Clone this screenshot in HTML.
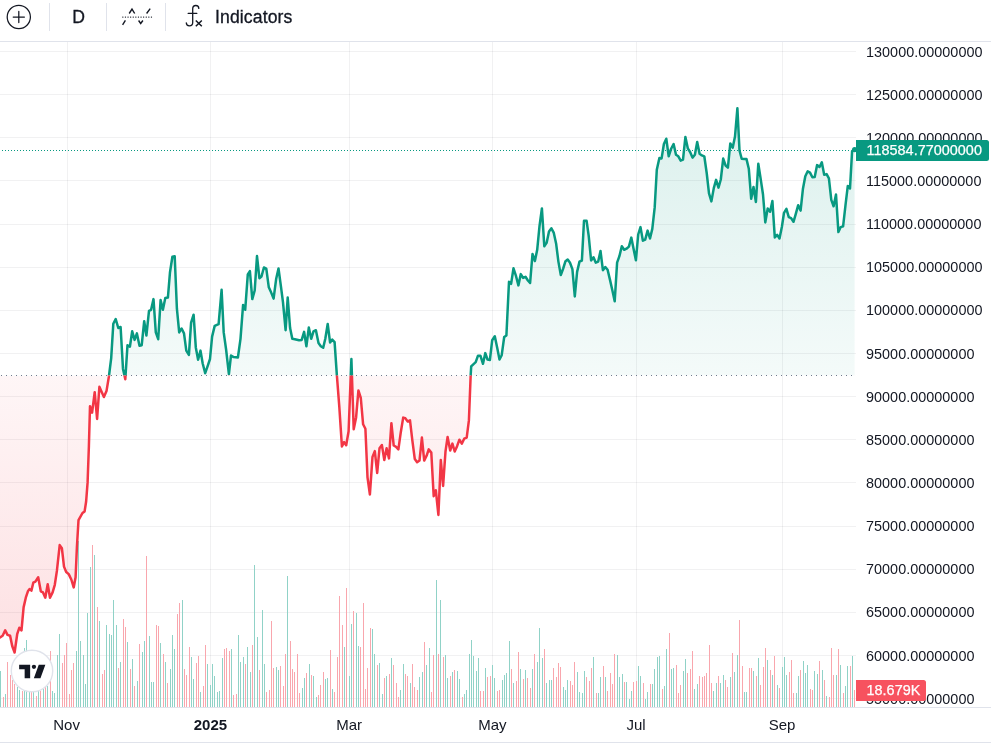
<!DOCTYPE html>
<html><head><meta charset="utf-8"><title>Chart</title>
<style>
html,body{margin:0;padding:0;background:#fff;}
body{width:991px;height:745px;overflow:hidden;position:relative;font-family:"Liberation Sans",sans-serif;color:#131722;}
#tb{position:absolute;left:0;top:0;width:991px;height:41px;border-bottom:1px solid #e0e3eb;box-sizing:content-box;}
.sep{position:absolute;top:3px;width:1px;height:28px;background:#e0e3eb;}
#tb .t{position:absolute;font-size:17.6px;line-height:20px;top:7px;-webkit-text-stroke:0.3px #131722;}
#chart{position:absolute;left:0;top:0;}
.pl{position:absolute;left:866px;font-size:14.4px;line-height:20px;height:20px;white-space:nowrap;letter-spacing:0.03px;}
.tl{position:absolute;top:714.5px;width:60px;text-align:center;font-size:15px;line-height:20px;}
.tl.b{font-weight:bold;}
#ta{position:absolute;left:0;top:707px;width:991px;height:36px;border-top:1px solid #e0e3eb;border-bottom:1px solid #e0e3eb;box-sizing:border-box;}
.tag{position:absolute;left:856px;color:#fff;-webkit-text-stroke:0.25px #fff;font-size:14.4px;letter-spacing:0.03px;line-height:20px;white-space:nowrap;border-radius:0 2.5px 2.5px 0;padding-left:10.5px;box-sizing:border-box;}
#logo{position:absolute;left:10.5px;top:649.5px;width:42px;height:42px;border-radius:50%;background:#fff;border:1px solid #e0e3eb;box-sizing:border-box;}
</style></head><body>
<svg id="chart" width="991" height="745" viewBox="0 0 991 745">
<defs>
<linearGradient id="gt" gradientUnits="userSpaceOnUse" x1="0" y1="41.5" x2="0" y2="375.4"><stop offset="0" stop-color="#089981" stop-opacity="0.17"/><stop offset="1" stop-color="#089981" stop-opacity="0.045"/></linearGradient>
<linearGradient id="gb" gradientUnits="userSpaceOnUse" x1="0" y1="375.4" x2="0" y2="707"><stop offset="0" stop-color="#f23645" stop-opacity="0.045"/><stop offset="1" stop-color="#f23645" stop-opacity="0.175"/></linearGradient>
<clipPath id="ct"><rect x="0" y="41.5" width="856" height="333.9"/></clipPath>
<clipPath id="cb"><rect x="0" y="375.4" width="856" height="331.6"/></clipPath>
</defs>
<g stroke="#2a2e39" stroke-opacity="0.065" stroke-width="1" shape-rendering="crispEdges"><line x1="0" y1="51.5" x2="856" y2="51.5"/><line x1="0" y1="94.5" x2="856" y2="94.5"/><line x1="0" y1="137.5" x2="856" y2="137.5"/><line x1="0" y1="180.5" x2="856" y2="180.5"/><line x1="0" y1="224.5" x2="856" y2="224.5"/><line x1="0" y1="267.5" x2="856" y2="267.5"/><line x1="0" y1="310.5" x2="856" y2="310.5"/><line x1="0" y1="353.5" x2="856" y2="353.5"/><line x1="0" y1="396.5" x2="856" y2="396.5"/><line x1="0" y1="439.5" x2="856" y2="439.5"/><line x1="0" y1="482.5" x2="856" y2="482.5"/><line x1="0" y1="526.5" x2="856" y2="526.5"/><line x1="0" y1="569.5" x2="856" y2="569.5"/><line x1="0" y1="612.5" x2="856" y2="612.5"/><line x1="0" y1="655.5" x2="856" y2="655.5"/><line x1="0" y1="698.5" x2="856" y2="698.5"/><line x1="67.5" y1="41" x2="67.5" y2="707"/><line x1="210.5" y1="41" x2="210.5" y2="707"/><line x1="349.5" y1="41" x2="349.5" y2="707"/><line x1="492.5" y1="41" x2="492.5" y2="707"/><line x1="636.5" y1="41" x2="636.5" y2="707"/><line x1="782.5" y1="41" x2="782.5" y2="707"/></g>
<g shape-rendering="crispEdges"><rect x="0" y="671" width="1" height="36" fill="#90d2c7"/><rect x="3" y="697" width="1" height="10" fill="#f9a6ad"/><rect x="5" y="694" width="1" height="13" fill="#90d2c7"/><rect x="7" y="662" width="1" height="45" fill="#f9a6ad"/><rect x="10" y="675" width="1" height="32" fill="#f9a6ad"/><rect x="12" y="680" width="1" height="27" fill="#f9a6ad"/><rect x="14" y="684" width="1" height="23" fill="#f9a6ad"/><rect x="17" y="687" width="1" height="20" fill="#90d2c7"/><rect x="19" y="690" width="1" height="17" fill="#90d2c7"/><rect x="22" y="691" width="1" height="16" fill="#f9a6ad"/><rect x="24" y="648" width="1" height="59" fill="#90d2c7"/><rect x="26" y="640" width="1" height="67" fill="#90d2c7"/><rect x="29" y="692" width="1" height="15" fill="#90d2c7"/><rect x="31" y="692" width="1" height="15" fill="#f9a6ad"/><rect x="33" y="692" width="1" height="15" fill="#90d2c7"/><rect x="36" y="696" width="1" height="11" fill="#f9a6ad"/><rect x="38" y="691" width="1" height="16" fill="#90d2c7"/><rect x="40" y="691" width="1" height="16" fill="#f9a6ad"/><rect x="43" y="689" width="1" height="18" fill="#90d2c7"/><rect x="45" y="687" width="1" height="20" fill="#f9a6ad"/><rect x="47" y="686" width="1" height="21" fill="#90d2c7"/><rect x="50" y="651" width="1" height="56" fill="#f9a6ad"/><rect x="52" y="691" width="1" height="16" fill="#90d2c7"/><rect x="54" y="693" width="1" height="14" fill="#90d2c7"/><rect x="57" y="655" width="1" height="52" fill="#90d2c7"/><rect x="59" y="634" width="1" height="73" fill="#90d2c7"/><rect x="62" y="663" width="1" height="44" fill="#f9a6ad"/><rect x="64" y="655" width="1" height="52" fill="#f9a6ad"/><rect x="66" y="643" width="1" height="64" fill="#f9a6ad"/><rect x="69" y="694" width="1" height="13" fill="#f9a6ad"/><rect x="71" y="670" width="1" height="37" fill="#f9a6ad"/><rect x="73" y="663" width="1" height="44" fill="#f9a6ad"/><rect x="76" y="651" width="1" height="56" fill="#90d2c7"/><rect x="78" y="541" width="1" height="166" fill="#90d2c7"/><rect x="80" y="641" width="1" height="66" fill="#90d2c7"/><rect x="83" y="655" width="1" height="52" fill="#90d2c7"/><rect x="85" y="684" width="1" height="23" fill="#90d2c7"/><rect x="87" y="613" width="1" height="94" fill="#90d2c7"/><rect x="90" y="567" width="1" height="140" fill="#90d2c7"/><rect x="92" y="545" width="1" height="162" fill="#f9a6ad"/><rect x="94" y="555" width="1" height="152" fill="#90d2c7"/><rect x="97" y="607" width="1" height="100" fill="#f9a6ad"/><rect x="99" y="621" width="1" height="86" fill="#90d2c7"/><rect x="102" y="674" width="1" height="33" fill="#f9a6ad"/><rect x="104" y="670" width="1" height="37" fill="#f9a6ad"/><rect x="106" y="625" width="1" height="82" fill="#90d2c7"/><rect x="109" y="634" width="1" height="73" fill="#90d2c7"/><rect x="111" y="635" width="1" height="72" fill="#90d2c7"/><rect x="113" y="600" width="1" height="107" fill="#90d2c7"/><rect x="116" y="625" width="1" height="82" fill="#90d2c7"/><rect x="118" y="668" width="1" height="39" fill="#f9a6ad"/><rect x="120" y="662" width="1" height="45" fill="#90d2c7"/><rect x="123" y="619" width="1" height="88" fill="#f9a6ad"/><rect x="125" y="627" width="1" height="80" fill="#f9a6ad"/><rect x="127" y="642" width="1" height="65" fill="#90d2c7"/><rect x="130" y="669" width="1" height="38" fill="#f9a6ad"/><rect x="132" y="659" width="1" height="48" fill="#90d2c7"/><rect x="134" y="686" width="1" height="21" fill="#f9a6ad"/><rect x="137" y="681" width="1" height="26" fill="#90d2c7"/><rect x="139" y="644" width="1" height="63" fill="#f9a6ad"/><rect x="142" y="652" width="1" height="55" fill="#90d2c7"/><rect x="144" y="641" width="1" height="66" fill="#90d2c7"/><rect x="146" y="556" width="1" height="151" fill="#f9a6ad"/><rect x="149" y="636" width="1" height="71" fill="#90d2c7"/><rect x="151" y="682" width="1" height="25" fill="#90d2c7"/><rect x="153" y="682" width="1" height="25" fill="#90d2c7"/><rect x="156" y="625" width="1" height="82" fill="#f9a6ad"/><rect x="158" y="626" width="1" height="81" fill="#f9a6ad"/><rect x="160" y="643" width="1" height="64" fill="#90d2c7"/><rect x="163" y="654" width="1" height="53" fill="#f9a6ad"/><rect x="165" y="662" width="1" height="45" fill="#90d2c7"/><rect x="167" y="683" width="1" height="24" fill="#f9a6ad"/><rect x="170" y="669" width="1" height="38" fill="#90d2c7"/><rect x="172" y="635" width="1" height="72" fill="#90d2c7"/><rect x="174" y="649" width="1" height="58" fill="#90d2c7"/><rect x="177" y="614" width="1" height="93" fill="#f9a6ad"/><rect x="179" y="603" width="1" height="104" fill="#f9a6ad"/><rect x="182" y="600" width="1" height="107" fill="#90d2c7"/><rect x="184" y="669" width="1" height="38" fill="#f9a6ad"/><rect x="186" y="675" width="1" height="32" fill="#f9a6ad"/><rect x="189" y="647" width="1" height="60" fill="#f9a6ad"/><rect x="191" y="657" width="1" height="50" fill="#90d2c7"/><rect x="193" y="679" width="1" height="28" fill="#90d2c7"/><rect x="196" y="663" width="1" height="44" fill="#f9a6ad"/><rect x="198" y="656" width="1" height="51" fill="#f9a6ad"/><rect x="200" y="692" width="1" height="15" fill="#90d2c7"/><rect x="203" y="686" width="1" height="21" fill="#f9a6ad"/><rect x="205" y="645" width="1" height="62" fill="#f9a6ad"/><rect x="207" y="664" width="1" height="43" fill="#90d2c7"/><rect x="210" y="685" width="1" height="22" fill="#90d2c7"/><rect x="212" y="664" width="1" height="43" fill="#90d2c7"/><rect x="214" y="676" width="1" height="31" fill="#90d2c7"/><rect x="217" y="692" width="1" height="15" fill="#90d2c7"/><rect x="219" y="691" width="1" height="16" fill="#90d2c7"/><rect x="222" y="658" width="1" height="49" fill="#90d2c7"/><rect x="224" y="649" width="1" height="58" fill="#f9a6ad"/><rect x="226" y="648" width="1" height="59" fill="#f9a6ad"/><rect x="229" y="651" width="1" height="56" fill="#f9a6ad"/><rect x="231" y="649" width="1" height="58" fill="#90d2c7"/><rect x="233" y="695" width="1" height="12" fill="#f9a6ad"/><rect x="236" y="694" width="1" height="13" fill="#f9a6ad"/><rect x="238" y="635" width="1" height="72" fill="#90d2c7"/><rect x="240" y="662" width="1" height="45" fill="#90d2c7"/><rect x="243" y="657" width="1" height="50" fill="#90d2c7"/><rect x="245" y="664" width="1" height="43" fill="#f9a6ad"/><rect x="247" y="647" width="1" height="60" fill="#90d2c7"/><rect x="250" y="672" width="1" height="35" fill="#90d2c7"/><rect x="252" y="645" width="1" height="62" fill="#f9a6ad"/><rect x="254" y="565" width="1" height="142" fill="#90d2c7"/><rect x="257" y="637" width="1" height="70" fill="#90d2c7"/><rect x="259" y="670" width="1" height="37" fill="#f9a6ad"/><rect x="262" y="610" width="1" height="97" fill="#90d2c7"/><rect x="264" y="664" width="1" height="43" fill="#90d2c7"/><rect x="266" y="692" width="1" height="15" fill="#f9a6ad"/><rect x="269" y="690" width="1" height="17" fill="#f9a6ad"/><rect x="271" y="621" width="1" height="86" fill="#f9a6ad"/><rect x="273" y="668" width="1" height="39" fill="#f9a6ad"/><rect x="276" y="667" width="1" height="40" fill="#90d2c7"/><rect x="278" y="670" width="1" height="37" fill="#90d2c7"/><rect x="280" y="666" width="1" height="41" fill="#f9a6ad"/><rect x="283" y="686" width="1" height="21" fill="#f9a6ad"/><rect x="285" y="654" width="1" height="53" fill="#f9a6ad"/><rect x="287" y="576" width="1" height="131" fill="#90d2c7"/><rect x="290" y="641" width="1" height="66" fill="#f9a6ad"/><rect x="292" y="669" width="1" height="38" fill="#f9a6ad"/><rect x="294" y="672" width="1" height="35" fill="#f9a6ad"/><rect x="297" y="654" width="1" height="53" fill="#f9a6ad"/><rect x="299" y="693" width="1" height="14" fill="#f9a6ad"/><rect x="302" y="688" width="1" height="19" fill="#90d2c7"/><rect x="304" y="678" width="1" height="29" fill="#90d2c7"/><rect x="306" y="673" width="1" height="34" fill="#f9a6ad"/><rect x="309" y="664" width="1" height="43" fill="#90d2c7"/><rect x="311" y="675" width="1" height="32" fill="#f9a6ad"/><rect x="313" y="676" width="1" height="31" fill="#90d2c7"/><rect x="316" y="697" width="1" height="10" fill="#90d2c7"/><rect x="318" y="695" width="1" height="12" fill="#f9a6ad"/><rect x="320" y="685" width="1" height="22" fill="#f9a6ad"/><rect x="323" y="672" width="1" height="35" fill="#f9a6ad"/><rect x="325" y="679" width="1" height="28" fill="#90d2c7"/><rect x="327" y="678" width="1" height="29" fill="#90d2c7"/><rect x="330" y="650" width="1" height="57" fill="#f9a6ad"/><rect x="332" y="689" width="1" height="18" fill="#90d2c7"/><rect x="334" y="692" width="1" height="15" fill="#f9a6ad"/><rect x="337" y="657" width="1" height="50" fill="#f9a6ad"/><rect x="339" y="596" width="1" height="111" fill="#f9a6ad"/><rect x="342" y="625" width="1" height="82" fill="#f9a6ad"/><rect x="344" y="647" width="1" height="60" fill="#90d2c7"/><rect x="346" y="588" width="1" height="119" fill="#f9a6ad"/><rect x="349" y="676" width="1" height="31" fill="#90d2c7"/><rect x="351" y="624" width="1" height="83" fill="#90d2c7"/><rect x="353" y="611" width="1" height="96" fill="#f9a6ad"/><rect x="356" y="613" width="1" height="94" fill="#90d2c7"/><rect x="358" y="646" width="1" height="61" fill="#90d2c7"/><rect x="360" y="647" width="1" height="60" fill="#f9a6ad"/><rect x="363" y="603" width="1" height="104" fill="#f9a6ad"/><rect x="365" y="689" width="1" height="18" fill="#f9a6ad"/><rect x="367" y="668" width="1" height="39" fill="#f9a6ad"/><rect x="370" y="628" width="1" height="79" fill="#f9a6ad"/><rect x="372" y="629" width="1" height="78" fill="#90d2c7"/><rect x="374" y="654" width="1" height="53" fill="#90d2c7"/><rect x="377" y="665" width="1" height="42" fill="#f9a6ad"/><rect x="379" y="663" width="1" height="44" fill="#90d2c7"/><rect x="382" y="694" width="1" height="13" fill="#90d2c7"/><rect x="384" y="678" width="1" height="29" fill="#f9a6ad"/><rect x="386" y="676" width="1" height="31" fill="#90d2c7"/><rect x="389" y="674" width="1" height="33" fill="#f9a6ad"/><rect x="391" y="658" width="1" height="49" fill="#90d2c7"/><rect x="393" y="665" width="1" height="42" fill="#f9a6ad"/><rect x="396" y="683" width="1" height="24" fill="#f9a6ad"/><rect x="398" y="697" width="1" height="10" fill="#f9a6ad"/><rect x="400" y="690" width="1" height="17" fill="#90d2c7"/><rect x="403" y="664" width="1" height="43" fill="#90d2c7"/><rect x="405" y="674" width="1" height="33" fill="#f9a6ad"/><rect x="407" y="676" width="1" height="31" fill="#f9a6ad"/><rect x="410" y="683" width="1" height="24" fill="#90d2c7"/><rect x="412" y="664" width="1" height="43" fill="#f9a6ad"/><rect x="414" y="687" width="1" height="20" fill="#f9a6ad"/><rect x="417" y="690" width="1" height="17" fill="#f9a6ad"/><rect x="419" y="677" width="1" height="30" fill="#90d2c7"/><rect x="422" y="672" width="1" height="35" fill="#90d2c7"/><rect x="424" y="642" width="1" height="65" fill="#f9a6ad"/><rect x="426" y="665" width="1" height="42" fill="#90d2c7"/><rect x="429" y="648" width="1" height="59" fill="#90d2c7"/><rect x="431" y="692" width="1" height="15" fill="#f9a6ad"/><rect x="433" y="655" width="1" height="52" fill="#f9a6ad"/><rect x="436" y="580" width="1" height="127" fill="#90d2c7"/><rect x="438" y="654" width="1" height="53" fill="#f9a6ad"/><rect x="440" y="600" width="1" height="107" fill="#90d2c7"/><rect x="443" y="657" width="1" height="50" fill="#f9a6ad"/><rect x="445" y="655" width="1" height="52" fill="#90d2c7"/><rect x="447" y="678" width="1" height="29" fill="#90d2c7"/><rect x="450" y="676" width="1" height="31" fill="#f9a6ad"/><rect x="452" y="672" width="1" height="35" fill="#90d2c7"/><rect x="454" y="670" width="1" height="37" fill="#f9a6ad"/><rect x="457" y="671" width="1" height="36" fill="#90d2c7"/><rect x="459" y="679" width="1" height="28" fill="#90d2c7"/><rect x="462" y="697" width="1" height="10" fill="#f9a6ad"/><rect x="464" y="694" width="1" height="13" fill="#90d2c7"/><rect x="466" y="690" width="1" height="17" fill="#90d2c7"/><rect x="469" y="654" width="1" height="53" fill="#90d2c7"/><rect x="471" y="640" width="1" height="67" fill="#90d2c7"/><rect x="473" y="656" width="1" height="51" fill="#90d2c7"/><rect x="476" y="671" width="1" height="36" fill="#90d2c7"/><rect x="478" y="658" width="1" height="49" fill="#90d2c7"/><rect x="480" y="691" width="1" height="16" fill="#f9a6ad"/><rect x="483" y="691" width="1" height="16" fill="#f9a6ad"/><rect x="485" y="668" width="1" height="39" fill="#90d2c7"/><rect x="487" y="677" width="1" height="30" fill="#f9a6ad"/><rect x="490" y="676" width="1" height="31" fill="#f9a6ad"/><rect x="492" y="665" width="1" height="42" fill="#90d2c7"/><rect x="494" y="678" width="1" height="29" fill="#90d2c7"/><rect x="497" y="691" width="1" height="16" fill="#f9a6ad"/><rect x="499" y="690" width="1" height="17" fill="#f9a6ad"/><rect x="502" y="680" width="1" height="27" fill="#90d2c7"/><rect x="504" y="675" width="1" height="32" fill="#90d2c7"/><rect x="506" y="673" width="1" height="34" fill="#90d2c7"/><rect x="509" y="641" width="1" height="66" fill="#90d2c7"/><rect x="511" y="669" width="1" height="38" fill="#f9a6ad"/><rect x="513" y="683" width="1" height="24" fill="#90d2c7"/><rect x="516" y="681" width="1" height="26" fill="#f9a6ad"/><rect x="518" y="652" width="1" height="55" fill="#f9a6ad"/><rect x="520" y="669" width="1" height="38" fill="#90d2c7"/><rect x="523" y="679" width="1" height="28" fill="#f9a6ad"/><rect x="525" y="670" width="1" height="37" fill="#90d2c7"/><rect x="527" y="678" width="1" height="29" fill="#f9a6ad"/><rect x="530" y="688" width="1" height="19" fill="#f9a6ad"/><rect x="532" y="669" width="1" height="38" fill="#90d2c7"/><rect x="534" y="654" width="1" height="53" fill="#f9a6ad"/><rect x="537" y="662" width="1" height="45" fill="#90d2c7"/><rect x="539" y="628" width="1" height="79" fill="#90d2c7"/><rect x="542" y="658" width="1" height="49" fill="#90d2c7"/><rect x="544" y="649" width="1" height="58" fill="#f9a6ad"/><rect x="546" y="683" width="1" height="24" fill="#90d2c7"/><rect x="549" y="680" width="1" height="27" fill="#90d2c7"/><rect x="551" y="680" width="1" height="27" fill="#90d2c7"/><rect x="553" y="668" width="1" height="39" fill="#f9a6ad"/><rect x="556" y="677" width="1" height="30" fill="#f9a6ad"/><rect x="558" y="663" width="1" height="44" fill="#f9a6ad"/><rect x="560" y="667" width="1" height="40" fill="#f9a6ad"/><rect x="563" y="687" width="1" height="20" fill="#90d2c7"/><rect x="565" y="690" width="1" height="17" fill="#90d2c7"/><rect x="567" y="680" width="1" height="27" fill="#90d2c7"/><rect x="570" y="681" width="1" height="26" fill="#f9a6ad"/><rect x="572" y="685" width="1" height="22" fill="#f9a6ad"/><rect x="574" y="662" width="1" height="45" fill="#f9a6ad"/><rect x="577" y="672" width="1" height="35" fill="#90d2c7"/><rect x="579" y="692" width="1" height="15" fill="#90d2c7"/><rect x="582" y="693" width="1" height="14" fill="#90d2c7"/><rect x="584" y="671" width="1" height="36" fill="#90d2c7"/><rect x="586" y="677" width="1" height="30" fill="#f9a6ad"/><rect x="589" y="681" width="1" height="26" fill="#f9a6ad"/><rect x="591" y="668" width="1" height="39" fill="#f9a6ad"/><rect x="593" y="657" width="1" height="50" fill="#90d2c7"/><rect x="596" y="693" width="1" height="14" fill="#f9a6ad"/><rect x="598" y="693" width="1" height="14" fill="#90d2c7"/><rect x="600" y="677" width="1" height="30" fill="#90d2c7"/><rect x="603" y="666" width="1" height="41" fill="#f9a6ad"/><rect x="605" y="677" width="1" height="30" fill="#90d2c7"/><rect x="607" y="691" width="1" height="16" fill="#f9a6ad"/><rect x="610" y="673" width="1" height="34" fill="#f9a6ad"/><rect x="612" y="684" width="1" height="23" fill="#f9a6ad"/><rect x="614" y="654" width="1" height="53" fill="#f9a6ad"/><rect x="617" y="655" width="1" height="52" fill="#90d2c7"/><rect x="619" y="677" width="1" height="30" fill="#90d2c7"/><rect x="622" y="674" width="1" height="33" fill="#90d2c7"/><rect x="624" y="682" width="1" height="25" fill="#f9a6ad"/><rect x="626" y="682" width="1" height="25" fill="#90d2c7"/><rect x="629" y="699" width="1" height="8" fill="#90d2c7"/><rect x="631" y="691" width="1" height="16" fill="#90d2c7"/><rect x="633" y="682" width="1" height="25" fill="#f9a6ad"/><rect x="636" y="681" width="1" height="26" fill="#f9a6ad"/><rect x="638" y="666" width="1" height="41" fill="#90d2c7"/><rect x="640" y="676" width="1" height="31" fill="#90d2c7"/><rect x="643" y="683" width="1" height="24" fill="#f9a6ad"/><rect x="645" y="699" width="1" height="8" fill="#90d2c7"/><rect x="647" y="692" width="1" height="15" fill="#90d2c7"/><rect x="650" y="684" width="1" height="23" fill="#f9a6ad"/><rect x="652" y="684" width="1" height="23" fill="#90d2c7"/><rect x="654" y="669" width="1" height="38" fill="#90d2c7"/><rect x="657" y="657" width="1" height="50" fill="#90d2c7"/><rect x="659" y="656" width="1" height="51" fill="#90d2c7"/><rect x="662" y="689" width="1" height="18" fill="#f9a6ad"/><rect x="664" y="686" width="1" height="21" fill="#90d2c7"/><rect x="666" y="649" width="1" height="58" fill="#90d2c7"/><rect x="669" y="633" width="1" height="74" fill="#f9a6ad"/><rect x="671" y="669" width="1" height="38" fill="#90d2c7"/><rect x="673" y="668" width="1" height="39" fill="#90d2c7"/><rect x="676" y="665" width="1" height="42" fill="#f9a6ad"/><rect x="678" y="693" width="1" height="14" fill="#f9a6ad"/><rect x="680" y="685" width="1" height="22" fill="#f9a6ad"/><rect x="683" y="671" width="1" height="36" fill="#90d2c7"/><rect x="685" y="659" width="1" height="48" fill="#90d2c7"/><rect x="687" y="673" width="1" height="34" fill="#f9a6ad"/><rect x="690" y="669" width="1" height="38" fill="#f9a6ad"/><rect x="692" y="651" width="1" height="56" fill="#f9a6ad"/><rect x="694" y="689" width="1" height="18" fill="#90d2c7"/><rect x="697" y="684" width="1" height="23" fill="#90d2c7"/><rect x="699" y="676" width="1" height="31" fill="#f9a6ad"/><rect x="702" y="677" width="1" height="30" fill="#f9a6ad"/><rect x="704" y="676" width="1" height="31" fill="#f9a6ad"/><rect x="706" y="673" width="1" height="34" fill="#f9a6ad"/><rect x="709" y="645" width="1" height="62" fill="#f9a6ad"/><rect x="711" y="683" width="1" height="24" fill="#f9a6ad"/><rect x="713" y="691" width="1" height="16" fill="#90d2c7"/><rect x="716" y="683" width="1" height="24" fill="#90d2c7"/><rect x="718" y="676" width="1" height="31" fill="#f9a6ad"/><rect x="720" y="683" width="1" height="24" fill="#90d2c7"/><rect x="723" y="675" width="1" height="32" fill="#90d2c7"/><rect x="725" y="680" width="1" height="27" fill="#f9a6ad"/><rect x="727" y="687" width="1" height="20" fill="#f9a6ad"/><rect x="730" y="677" width="1" height="30" fill="#90d2c7"/><rect x="732" y="653" width="1" height="54" fill="#f9a6ad"/><rect x="734" y="672" width="1" height="35" fill="#90d2c7"/><rect x="737" y="655" width="1" height="52" fill="#90d2c7"/><rect x="739" y="620" width="1" height="87" fill="#f9a6ad"/><rect x="742" y="666" width="1" height="41" fill="#f9a6ad"/><rect x="744" y="692" width="1" height="15" fill="#90d2c7"/><rect x="746" y="692" width="1" height="15" fill="#90d2c7"/><rect x="749" y="668" width="1" height="39" fill="#f9a6ad"/><rect x="751" y="668" width="1" height="39" fill="#f9a6ad"/><rect x="753" y="671" width="1" height="36" fill="#90d2c7"/><rect x="756" y="676" width="1" height="31" fill="#f9a6ad"/><rect x="758" y="658" width="1" height="49" fill="#90d2c7"/><rect x="760" y="685" width="1" height="22" fill="#f9a6ad"/><rect x="763" y="667" width="1" height="40" fill="#f9a6ad"/><rect x="765" y="648" width="1" height="59" fill="#f9a6ad"/><rect x="767" y="660" width="1" height="47" fill="#90d2c7"/><rect x="770" y="670" width="1" height="37" fill="#f9a6ad"/><rect x="772" y="675" width="1" height="32" fill="#90d2c7"/><rect x="774" y="656" width="1" height="51" fill="#f9a6ad"/><rect x="777" y="685" width="1" height="22" fill="#90d2c7"/><rect x="779" y="688" width="1" height="19" fill="#f9a6ad"/><rect x="782" y="667" width="1" height="40" fill="#90d2c7"/><rect x="784" y="657" width="1" height="50" fill="#90d2c7"/><rect x="786" y="675" width="1" height="32" fill="#90d2c7"/><rect x="789" y="672" width="1" height="35" fill="#f9a6ad"/><rect x="791" y="660" width="1" height="47" fill="#f9a6ad"/><rect x="793" y="693" width="1" height="14" fill="#f9a6ad"/><rect x="796" y="693" width="1" height="14" fill="#90d2c7"/><rect x="798" y="676" width="1" height="31" fill="#90d2c7"/><rect x="800" y="670" width="1" height="37" fill="#f9a6ad"/><rect x="803" y="661" width="1" height="46" fill="#90d2c7"/><rect x="805" y="673" width="1" height="34" fill="#90d2c7"/><rect x="807" y="665" width="1" height="42" fill="#90d2c7"/><rect x="810" y="689" width="1" height="18" fill="#f9a6ad"/><rect x="812" y="690" width="1" height="17" fill="#f9a6ad"/><rect x="814" y="671" width="1" height="36" fill="#90d2c7"/><rect x="817" y="674" width="1" height="33" fill="#90d2c7"/><rect x="819" y="661" width="1" height="46" fill="#f9a6ad"/><rect x="822" y="670" width="1" height="37" fill="#90d2c7"/><rect x="824" y="680" width="1" height="27" fill="#f9a6ad"/><rect x="826" y="696" width="1" height="11" fill="#90d2c7"/><rect x="829" y="697" width="1" height="10" fill="#f9a6ad"/><rect x="831" y="648" width="1" height="59" fill="#f9a6ad"/><rect x="833" y="675" width="1" height="32" fill="#f9a6ad"/><rect x="836" y="675" width="1" height="32" fill="#90d2c7"/><rect x="838" y="649" width="1" height="58" fill="#f9a6ad"/><rect x="840" y="665" width="1" height="42" fill="#90d2c7"/><rect x="843" y="693" width="1" height="14" fill="#f9a6ad"/><rect x="845" y="686" width="1" height="21" fill="#90d2c7"/><rect x="847" y="666" width="1" height="41" fill="#90d2c7"/><rect x="850" y="666" width="1" height="41" fill="#f9a6ad"/><rect x="852" y="656" width="1" height="51" fill="#90d2c7"/><rect x="854" y="690" width="1" height="17" fill="#f9a6ad"/></g>
<g clip-path="url(#ct)"><path d="M0.0,637.5 L2.6,635.7 L5.2,630.4 L7.5,634.9 L10.1,635.7 L12.2,646.0 L14.6,652.5 L17.2,634.2 L19.3,627.8 L21.5,630.4 L23.6,607.4 L25.8,597.7 L27.9,591.3 L29.6,589.1 L31.4,590.6 L33.3,582.7 L35.4,581.6 L38.2,577.3 L40.8,591.3 L43.0,592.4 L45.3,597.7 L47.7,584.2 L50.0,597.7 L52.6,592.4 L54.8,584.8 L56.9,570.9 L59.7,545.1 L61.9,548.3 L64.0,566.6 L66.2,572.0 L68.7,574.1 L71.3,579.5 L73.7,587.4 L75.6,577.3 L76.9,547.3 L78.5,520.2 L82.5,513.0 L84.6,511.4 L86.1,501.8 L87.6,482.4 L88.9,446.0 L90.0,406.2 L92.1,412.6 L94.7,392.2 L97.1,419.0 L99.4,386.8 L101.8,392.2 L103.9,397.0 L106.5,391.1 L108.9,376.5 L111.2,358.1 L113.3,323.8 L115.7,319.0 L118.3,328.0 L120.6,327.0 L123.0,368.9 L125.3,379.2 L127.5,345.2 L129.9,346.7 L132.2,331.3 L134.6,339.9 L136.9,333.4 L139.5,345.7 L141.7,345.2 L144.2,321.2 L146.4,335.6 L149.0,310.9 L151.1,309.8 L153.5,299.1 L155.8,332.4 L158.2,339.2 L160.6,300.1 L162.9,309.8 L165.3,298.0 L167.9,297.6 L170.0,272.2 L172.4,256.8 L174.7,256.3 L176.9,308.7 L179.2,332.4 L181.6,328.5 L184.0,333.4 L186.3,350.6 L188.9,354.9 L191.1,322.7 L193.6,314.7 L195.8,347.4 L198.1,359.8 L200.5,350.6 L202.7,363.5 L205.2,373.2 L207.8,365.6 L210.0,359.0 L212.1,336.6 L214.7,325.9 L218.6,324.2 L221.6,289.8 L223.7,332.4 L226.1,349.5 L228.9,374.2 L231.0,355.5 L233.6,357.1 L237.9,357.5 L240.5,338.8 L243.1,304.9 L245.2,309.8 L247.8,274.4 L249.9,271.1 L252.3,299.1 L254.7,290.5 L257.0,256.1 L259.4,278.2 L261.5,276.5 L263.9,267.5 L266.3,268.6 L268.8,287.3 L271.2,292.6 L273.6,298.6 L276.2,278.7 L278.5,268.4 L280.9,286.2 L283.0,302.3 L285.6,330.2 L287.7,297.6 L290.1,328.1 L292.3,338.8 L294.8,339.2 L299.1,340.3 L301.7,339.9 L304.1,331.9 L306.4,346.3 L308.8,327.6 L311.2,338.8 L313.5,331.3 L315.9,330.2 L318.5,343.1 L320.8,346.3 L323.2,347.8 L325.3,338.8 L327.7,324.0 L330.1,342.6 L332.2,339.6 L334.6,342.2 L336.8,374.4 L339.3,406.6 L341.9,446.4 L344.1,442.1 L346.2,445.3 L348.6,431.3 L351.4,359.0 L353.7,429.2 L356.1,417.4 L358.4,390.5 L360.8,398.0 L363.1,424.3 L365.4,428.8 L367.5,477.3 L369.9,494.5 L372.5,456.9 L374.8,451.1 L377.2,473.0 L379.5,448.3 L381.9,445.1 L384.3,460.1 L386.6,448.3 L389.0,458.4 L391.4,423.2 L393.7,445.5 L396.1,446.8 L398.4,449.4 L400.8,432.2 L403.2,417.6 L405.3,418.3 L407.7,421.5 L410.0,420.4 L412.4,440.8 L414.8,459.1 L417.1,462.3 L419.5,460.6 L421.9,437.6 L424.2,460.6 L426.6,455.8 L428.7,449.4 L431.3,452.6 L433.7,496.2 L435.8,490.2 L438.4,514.9 L440.8,460.1 L443.1,485.9 L445.5,451.5 L447.6,436.9 L450.2,450.5 L452.4,443.6 L454.7,451.5 L457.1,446.2 L459.4,439.7 L461.8,443.6 L464.2,438.7 L466.7,437.6 L468.9,420.4 L470.7,374.6 L471.2,366.4 L473.3,364.3 L475.7,362.1 L478.0,355.7 L480.4,355.7 L483.0,363.8 L485.3,353.1 L487.5,359.5 L489.9,360.0 L492.2,340.2 L494.8,336.3 L497.2,347.7 L499.5,359.5 L501.7,355.2 L504.2,337.0 L506.4,335.5 L509.0,281.8 L511.1,283.9 L513.5,268.3 L515.8,275.3 L518.4,285.4 L520.8,274.1 L523.1,277.9 L525.5,276.8 L527.9,280.5 L530.1,283.0 L532.5,254.0 L534.9,261.0 L537.2,249.8 L539.5,226.2 L541.9,208.4 L544.3,246.2 L546.6,242.9 L549.0,231.5 L551.4,228.3 L553.7,232.6 L556.1,243.4 L558.4,261.6 L560.8,275.1 L563.2,268.5 L565.5,261.2 L567.7,259.5 L570.0,262.7 L572.4,269.1 L574.8,296.4 L577.1,271.9 L579.5,261.6 L581.9,260.5 L584.0,220.8 L586.6,220.8 L588.7,235.8 L591.1,260.5 L593.5,257.3 L595.8,262.7 L598.2,261.6 L600.5,250.9 L602.9,270.2 L605.3,267.0 L607.6,269.8 L610.0,279.9 L612.4,290.6 L614.7,301.3 L617.1,262.7 L619.4,256.2 L621.8,246.2 L624.2,249.8 L626.5,248.7 L628.9,246.6 L631.3,237.6 L633.5,248.5 L635.9,260.3 L638.2,234.5 L640.5,227.1 L642.9,240.7 L645.2,239.6 L647.6,230.6 L650.0,238.5 L652.3,228.9 L654.7,207.4 L656.8,169.8 L659.4,158.0 L661.6,158.4 L663.9,144.0 L666.3,138.7 L668.7,156.3 L671.0,149.0 L673.6,144.0 L676.0,154.8 L678.3,156.3 L680.7,160.6 L683.0,159.7 L685.4,136.9 L687.8,148.3 L690.1,152.0 L692.5,157.6 L694.9,154.8 L697.2,141.9 L699.6,153.7 L701.9,155.4 L704.3,156.3 L706.7,173.0 L709.0,193.4 L711.4,201.4 L713.8,188.1 L716.1,179.9 L718.5,187.6 L720.8,179.5 L723.2,158.6 L725.6,165.5 L727.9,167.7 L730.3,143.4 L732.7,147.7 L735.0,136.5 L737.4,108.2 L739.5,150.5 L741.7,158.8 L744.3,159.1 L746.5,159.1 L748.8,168.7 L751.2,198.8 L753.5,187.0 L755.9,202.0 L758.3,163.8 L760.6,178.4 L763.0,194.5 L765.3,222.4 L767.7,208.5 L770.1,211.7 L772.4,200.9 L774.8,237.5 L777.2,234.9 L779.5,238.5 L781.9,226.7 L784.0,212.8 L786.4,208.9 L788.8,217.1 L791.1,218.1 L793.5,221.8 L795.8,213.8 L798.2,205.2 L800.6,210.6 L802.9,189.1 L805.3,176.2 L807.7,171.3 L810.0,172.6 L812.4,177.3 L814.7,176.9 L817.1,165.1 L819.5,167.0 L821.8,162.3 L824.2,174.7 L826.6,174.1 L828.9,178.4 L831.3,199.9 L833.6,206.3 L836.0,194.5 L838.4,232.1 L840.7,227.1 L843.1,226.3 L845.5,205.2 L847.8,185.9 L850.0,188.5 L852.1,151.0 L854.6,149.5 L854.6,375.4 L0.0,375.4 Z" fill="url(#gt)"/></g>
<g clip-path="url(#cb)"><path d="M0.0,637.5 L2.6,635.7 L5.2,630.4 L7.5,634.9 L10.1,635.7 L12.2,646.0 L14.6,652.5 L17.2,634.2 L19.3,627.8 L21.5,630.4 L23.6,607.4 L25.8,597.7 L27.9,591.3 L29.6,589.1 L31.4,590.6 L33.3,582.7 L35.4,581.6 L38.2,577.3 L40.8,591.3 L43.0,592.4 L45.3,597.7 L47.7,584.2 L50.0,597.7 L52.6,592.4 L54.8,584.8 L56.9,570.9 L59.7,545.1 L61.9,548.3 L64.0,566.6 L66.2,572.0 L68.7,574.1 L71.3,579.5 L73.7,587.4 L75.6,577.3 L76.9,547.3 L78.5,520.2 L82.5,513.0 L84.6,511.4 L86.1,501.8 L87.6,482.4 L88.9,446.0 L90.0,406.2 L92.1,412.6 L94.7,392.2 L97.1,419.0 L99.4,386.8 L101.8,392.2 L103.9,397.0 L106.5,391.1 L108.9,376.5 L111.2,358.1 L113.3,323.8 L115.7,319.0 L118.3,328.0 L120.6,327.0 L123.0,368.9 L125.3,379.2 L127.5,345.2 L129.9,346.7 L132.2,331.3 L134.6,339.9 L136.9,333.4 L139.5,345.7 L141.7,345.2 L144.2,321.2 L146.4,335.6 L149.0,310.9 L151.1,309.8 L153.5,299.1 L155.8,332.4 L158.2,339.2 L160.6,300.1 L162.9,309.8 L165.3,298.0 L167.9,297.6 L170.0,272.2 L172.4,256.8 L174.7,256.3 L176.9,308.7 L179.2,332.4 L181.6,328.5 L184.0,333.4 L186.3,350.6 L188.9,354.9 L191.1,322.7 L193.6,314.7 L195.8,347.4 L198.1,359.8 L200.5,350.6 L202.7,363.5 L205.2,373.2 L207.8,365.6 L210.0,359.0 L212.1,336.6 L214.7,325.9 L218.6,324.2 L221.6,289.8 L223.7,332.4 L226.1,349.5 L228.9,374.2 L231.0,355.5 L233.6,357.1 L237.9,357.5 L240.5,338.8 L243.1,304.9 L245.2,309.8 L247.8,274.4 L249.9,271.1 L252.3,299.1 L254.7,290.5 L257.0,256.1 L259.4,278.2 L261.5,276.5 L263.9,267.5 L266.3,268.6 L268.8,287.3 L271.2,292.6 L273.6,298.6 L276.2,278.7 L278.5,268.4 L280.9,286.2 L283.0,302.3 L285.6,330.2 L287.7,297.6 L290.1,328.1 L292.3,338.8 L294.8,339.2 L299.1,340.3 L301.7,339.9 L304.1,331.9 L306.4,346.3 L308.8,327.6 L311.2,338.8 L313.5,331.3 L315.9,330.2 L318.5,343.1 L320.8,346.3 L323.2,347.8 L325.3,338.8 L327.7,324.0 L330.1,342.6 L332.2,339.6 L334.6,342.2 L336.8,374.4 L339.3,406.6 L341.9,446.4 L344.1,442.1 L346.2,445.3 L348.6,431.3 L351.4,359.0 L353.7,429.2 L356.1,417.4 L358.4,390.5 L360.8,398.0 L363.1,424.3 L365.4,428.8 L367.5,477.3 L369.9,494.5 L372.5,456.9 L374.8,451.1 L377.2,473.0 L379.5,448.3 L381.9,445.1 L384.3,460.1 L386.6,448.3 L389.0,458.4 L391.4,423.2 L393.7,445.5 L396.1,446.8 L398.4,449.4 L400.8,432.2 L403.2,417.6 L405.3,418.3 L407.7,421.5 L410.0,420.4 L412.4,440.8 L414.8,459.1 L417.1,462.3 L419.5,460.6 L421.9,437.6 L424.2,460.6 L426.6,455.8 L428.7,449.4 L431.3,452.6 L433.7,496.2 L435.8,490.2 L438.4,514.9 L440.8,460.1 L443.1,485.9 L445.5,451.5 L447.6,436.9 L450.2,450.5 L452.4,443.6 L454.7,451.5 L457.1,446.2 L459.4,439.7 L461.8,443.6 L464.2,438.7 L466.7,437.6 L468.9,420.4 L470.7,374.6 L471.2,366.4 L473.3,364.3 L475.7,362.1 L478.0,355.7 L480.4,355.7 L483.0,363.8 L485.3,353.1 L487.5,359.5 L489.9,360.0 L492.2,340.2 L494.8,336.3 L497.2,347.7 L499.5,359.5 L501.7,355.2 L504.2,337.0 L506.4,335.5 L509.0,281.8 L511.1,283.9 L513.5,268.3 L515.8,275.3 L518.4,285.4 L520.8,274.1 L523.1,277.9 L525.5,276.8 L527.9,280.5 L530.1,283.0 L532.5,254.0 L534.9,261.0 L537.2,249.8 L539.5,226.2 L541.9,208.4 L544.3,246.2 L546.6,242.9 L549.0,231.5 L551.4,228.3 L553.7,232.6 L556.1,243.4 L558.4,261.6 L560.8,275.1 L563.2,268.5 L565.5,261.2 L567.7,259.5 L570.0,262.7 L572.4,269.1 L574.8,296.4 L577.1,271.9 L579.5,261.6 L581.9,260.5 L584.0,220.8 L586.6,220.8 L588.7,235.8 L591.1,260.5 L593.5,257.3 L595.8,262.7 L598.2,261.6 L600.5,250.9 L602.9,270.2 L605.3,267.0 L607.6,269.8 L610.0,279.9 L612.4,290.6 L614.7,301.3 L617.1,262.7 L619.4,256.2 L621.8,246.2 L624.2,249.8 L626.5,248.7 L628.9,246.6 L631.3,237.6 L633.5,248.5 L635.9,260.3 L638.2,234.5 L640.5,227.1 L642.9,240.7 L645.2,239.6 L647.6,230.6 L650.0,238.5 L652.3,228.9 L654.7,207.4 L656.8,169.8 L659.4,158.0 L661.6,158.4 L663.9,144.0 L666.3,138.7 L668.7,156.3 L671.0,149.0 L673.6,144.0 L676.0,154.8 L678.3,156.3 L680.7,160.6 L683.0,159.7 L685.4,136.9 L687.8,148.3 L690.1,152.0 L692.5,157.6 L694.9,154.8 L697.2,141.9 L699.6,153.7 L701.9,155.4 L704.3,156.3 L706.7,173.0 L709.0,193.4 L711.4,201.4 L713.8,188.1 L716.1,179.9 L718.5,187.6 L720.8,179.5 L723.2,158.6 L725.6,165.5 L727.9,167.7 L730.3,143.4 L732.7,147.7 L735.0,136.5 L737.4,108.2 L739.5,150.5 L741.7,158.8 L744.3,159.1 L746.5,159.1 L748.8,168.7 L751.2,198.8 L753.5,187.0 L755.9,202.0 L758.3,163.8 L760.6,178.4 L763.0,194.5 L765.3,222.4 L767.7,208.5 L770.1,211.7 L772.4,200.9 L774.8,237.5 L777.2,234.9 L779.5,238.5 L781.9,226.7 L784.0,212.8 L786.4,208.9 L788.8,217.1 L791.1,218.1 L793.5,221.8 L795.8,213.8 L798.2,205.2 L800.6,210.6 L802.9,189.1 L805.3,176.2 L807.7,171.3 L810.0,172.6 L812.4,177.3 L814.7,176.9 L817.1,165.1 L819.5,167.0 L821.8,162.3 L824.2,174.7 L826.6,174.1 L828.9,178.4 L831.3,199.9 L833.6,206.3 L836.0,194.5 L838.4,232.1 L840.7,227.1 L843.1,226.3 L845.5,205.2 L847.8,185.9 L850.0,188.5 L852.1,151.0 L854.6,149.5 L854.6,375.4 L0.0,375.4 Z" fill="url(#gb)"/></g>
<line x1="1" y1="375.5" x2="856" y2="375.5" stroke="#6f7c8f" stroke-width="1" stroke-dasharray="1 4" shape-rendering="crispEdges"/>
<g clip-path="url(#ct)"><path d="M0.0,637.5 L2.6,635.7 L5.2,630.4 L7.5,634.9 L10.1,635.7 L12.2,646.0 L14.6,652.5 L17.2,634.2 L19.3,627.8 L21.5,630.4 L23.6,607.4 L25.8,597.7 L27.9,591.3 L29.6,589.1 L31.4,590.6 L33.3,582.7 L35.4,581.6 L38.2,577.3 L40.8,591.3 L43.0,592.4 L45.3,597.7 L47.7,584.2 L50.0,597.7 L52.6,592.4 L54.8,584.8 L56.9,570.9 L59.7,545.1 L61.9,548.3 L64.0,566.6 L66.2,572.0 L68.7,574.1 L71.3,579.5 L73.7,587.4 L75.6,577.3 L76.9,547.3 L78.5,520.2 L82.5,513.0 L84.6,511.4 L86.1,501.8 L87.6,482.4 L88.9,446.0 L90.0,406.2 L92.1,412.6 L94.7,392.2 L97.1,419.0 L99.4,386.8 L101.8,392.2 L103.9,397.0 L106.5,391.1 L108.9,376.5 L111.2,358.1 L113.3,323.8 L115.7,319.0 L118.3,328.0 L120.6,327.0 L123.0,368.9 L125.3,379.2 L127.5,345.2 L129.9,346.7 L132.2,331.3 L134.6,339.9 L136.9,333.4 L139.5,345.7 L141.7,345.2 L144.2,321.2 L146.4,335.6 L149.0,310.9 L151.1,309.8 L153.5,299.1 L155.8,332.4 L158.2,339.2 L160.6,300.1 L162.9,309.8 L165.3,298.0 L167.9,297.6 L170.0,272.2 L172.4,256.8 L174.7,256.3 L176.9,308.7 L179.2,332.4 L181.6,328.5 L184.0,333.4 L186.3,350.6 L188.9,354.9 L191.1,322.7 L193.6,314.7 L195.8,347.4 L198.1,359.8 L200.5,350.6 L202.7,363.5 L205.2,373.2 L207.8,365.6 L210.0,359.0 L212.1,336.6 L214.7,325.9 L218.6,324.2 L221.6,289.8 L223.7,332.4 L226.1,349.5 L228.9,374.2 L231.0,355.5 L233.6,357.1 L237.9,357.5 L240.5,338.8 L243.1,304.9 L245.2,309.8 L247.8,274.4 L249.9,271.1 L252.3,299.1 L254.7,290.5 L257.0,256.1 L259.4,278.2 L261.5,276.5 L263.9,267.5 L266.3,268.6 L268.8,287.3 L271.2,292.6 L273.6,298.6 L276.2,278.7 L278.5,268.4 L280.9,286.2 L283.0,302.3 L285.6,330.2 L287.7,297.6 L290.1,328.1 L292.3,338.8 L294.8,339.2 L299.1,340.3 L301.7,339.9 L304.1,331.9 L306.4,346.3 L308.8,327.6 L311.2,338.8 L313.5,331.3 L315.9,330.2 L318.5,343.1 L320.8,346.3 L323.2,347.8 L325.3,338.8 L327.7,324.0 L330.1,342.6 L332.2,339.6 L334.6,342.2 L336.8,374.4 L339.3,406.6 L341.9,446.4 L344.1,442.1 L346.2,445.3 L348.6,431.3 L351.4,359.0 L353.7,429.2 L356.1,417.4 L358.4,390.5 L360.8,398.0 L363.1,424.3 L365.4,428.8 L367.5,477.3 L369.9,494.5 L372.5,456.9 L374.8,451.1 L377.2,473.0 L379.5,448.3 L381.9,445.1 L384.3,460.1 L386.6,448.3 L389.0,458.4 L391.4,423.2 L393.7,445.5 L396.1,446.8 L398.4,449.4 L400.8,432.2 L403.2,417.6 L405.3,418.3 L407.7,421.5 L410.0,420.4 L412.4,440.8 L414.8,459.1 L417.1,462.3 L419.5,460.6 L421.9,437.6 L424.2,460.6 L426.6,455.8 L428.7,449.4 L431.3,452.6 L433.7,496.2 L435.8,490.2 L438.4,514.9 L440.8,460.1 L443.1,485.9 L445.5,451.5 L447.6,436.9 L450.2,450.5 L452.4,443.6 L454.7,451.5 L457.1,446.2 L459.4,439.7 L461.8,443.6 L464.2,438.7 L466.7,437.6 L468.9,420.4 L470.7,374.6 L471.2,366.4 L473.3,364.3 L475.7,362.1 L478.0,355.7 L480.4,355.7 L483.0,363.8 L485.3,353.1 L487.5,359.5 L489.9,360.0 L492.2,340.2 L494.8,336.3 L497.2,347.7 L499.5,359.5 L501.7,355.2 L504.2,337.0 L506.4,335.5 L509.0,281.8 L511.1,283.9 L513.5,268.3 L515.8,275.3 L518.4,285.4 L520.8,274.1 L523.1,277.9 L525.5,276.8 L527.9,280.5 L530.1,283.0 L532.5,254.0 L534.9,261.0 L537.2,249.8 L539.5,226.2 L541.9,208.4 L544.3,246.2 L546.6,242.9 L549.0,231.5 L551.4,228.3 L553.7,232.6 L556.1,243.4 L558.4,261.6 L560.8,275.1 L563.2,268.5 L565.5,261.2 L567.7,259.5 L570.0,262.7 L572.4,269.1 L574.8,296.4 L577.1,271.9 L579.5,261.6 L581.9,260.5 L584.0,220.8 L586.6,220.8 L588.7,235.8 L591.1,260.5 L593.5,257.3 L595.8,262.7 L598.2,261.6 L600.5,250.9 L602.9,270.2 L605.3,267.0 L607.6,269.8 L610.0,279.9 L612.4,290.6 L614.7,301.3 L617.1,262.7 L619.4,256.2 L621.8,246.2 L624.2,249.8 L626.5,248.7 L628.9,246.6 L631.3,237.6 L633.5,248.5 L635.9,260.3 L638.2,234.5 L640.5,227.1 L642.9,240.7 L645.2,239.6 L647.6,230.6 L650.0,238.5 L652.3,228.9 L654.7,207.4 L656.8,169.8 L659.4,158.0 L661.6,158.4 L663.9,144.0 L666.3,138.7 L668.7,156.3 L671.0,149.0 L673.6,144.0 L676.0,154.8 L678.3,156.3 L680.7,160.6 L683.0,159.7 L685.4,136.9 L687.8,148.3 L690.1,152.0 L692.5,157.6 L694.9,154.8 L697.2,141.9 L699.6,153.7 L701.9,155.4 L704.3,156.3 L706.7,173.0 L709.0,193.4 L711.4,201.4 L713.8,188.1 L716.1,179.9 L718.5,187.6 L720.8,179.5 L723.2,158.6 L725.6,165.5 L727.9,167.7 L730.3,143.4 L732.7,147.7 L735.0,136.5 L737.4,108.2 L739.5,150.5 L741.7,158.8 L744.3,159.1 L746.5,159.1 L748.8,168.7 L751.2,198.8 L753.5,187.0 L755.9,202.0 L758.3,163.8 L760.6,178.4 L763.0,194.5 L765.3,222.4 L767.7,208.5 L770.1,211.7 L772.4,200.9 L774.8,237.5 L777.2,234.9 L779.5,238.5 L781.9,226.7 L784.0,212.8 L786.4,208.9 L788.8,217.1 L791.1,218.1 L793.5,221.8 L795.8,213.8 L798.2,205.2 L800.6,210.6 L802.9,189.1 L805.3,176.2 L807.7,171.3 L810.0,172.6 L812.4,177.3 L814.7,176.9 L817.1,165.1 L819.5,167.0 L821.8,162.3 L824.2,174.7 L826.6,174.1 L828.9,178.4 L831.3,199.9 L833.6,206.3 L836.0,194.5 L838.4,232.1 L840.7,227.1 L843.1,226.3 L845.5,205.2 L847.8,185.9 L850.0,188.5 L852.1,151.0 L854.6,149.5" fill="none" stroke="#089981" stroke-width="2.5" stroke-linejoin="round" stroke-linecap="round"/></g>
<g clip-path="url(#cb)"><path d="M0.0,637.5 L2.6,635.7 L5.2,630.4 L7.5,634.9 L10.1,635.7 L12.2,646.0 L14.6,652.5 L17.2,634.2 L19.3,627.8 L21.5,630.4 L23.6,607.4 L25.8,597.7 L27.9,591.3 L29.6,589.1 L31.4,590.6 L33.3,582.7 L35.4,581.6 L38.2,577.3 L40.8,591.3 L43.0,592.4 L45.3,597.7 L47.7,584.2 L50.0,597.7 L52.6,592.4 L54.8,584.8 L56.9,570.9 L59.7,545.1 L61.9,548.3 L64.0,566.6 L66.2,572.0 L68.7,574.1 L71.3,579.5 L73.7,587.4 L75.6,577.3 L76.9,547.3 L78.5,520.2 L82.5,513.0 L84.6,511.4 L86.1,501.8 L87.6,482.4 L88.9,446.0 L90.0,406.2 L92.1,412.6 L94.7,392.2 L97.1,419.0 L99.4,386.8 L101.8,392.2 L103.9,397.0 L106.5,391.1 L108.9,376.5 L111.2,358.1 L113.3,323.8 L115.7,319.0 L118.3,328.0 L120.6,327.0 L123.0,368.9 L125.3,379.2 L127.5,345.2 L129.9,346.7 L132.2,331.3 L134.6,339.9 L136.9,333.4 L139.5,345.7 L141.7,345.2 L144.2,321.2 L146.4,335.6 L149.0,310.9 L151.1,309.8 L153.5,299.1 L155.8,332.4 L158.2,339.2 L160.6,300.1 L162.9,309.8 L165.3,298.0 L167.9,297.6 L170.0,272.2 L172.4,256.8 L174.7,256.3 L176.9,308.7 L179.2,332.4 L181.6,328.5 L184.0,333.4 L186.3,350.6 L188.9,354.9 L191.1,322.7 L193.6,314.7 L195.8,347.4 L198.1,359.8 L200.5,350.6 L202.7,363.5 L205.2,373.2 L207.8,365.6 L210.0,359.0 L212.1,336.6 L214.7,325.9 L218.6,324.2 L221.6,289.8 L223.7,332.4 L226.1,349.5 L228.9,374.2 L231.0,355.5 L233.6,357.1 L237.9,357.5 L240.5,338.8 L243.1,304.9 L245.2,309.8 L247.8,274.4 L249.9,271.1 L252.3,299.1 L254.7,290.5 L257.0,256.1 L259.4,278.2 L261.5,276.5 L263.9,267.5 L266.3,268.6 L268.8,287.3 L271.2,292.6 L273.6,298.6 L276.2,278.7 L278.5,268.4 L280.9,286.2 L283.0,302.3 L285.6,330.2 L287.7,297.6 L290.1,328.1 L292.3,338.8 L294.8,339.2 L299.1,340.3 L301.7,339.9 L304.1,331.9 L306.4,346.3 L308.8,327.6 L311.2,338.8 L313.5,331.3 L315.9,330.2 L318.5,343.1 L320.8,346.3 L323.2,347.8 L325.3,338.8 L327.7,324.0 L330.1,342.6 L332.2,339.6 L334.6,342.2 L336.8,374.4 L339.3,406.6 L341.9,446.4 L344.1,442.1 L346.2,445.3 L348.6,431.3 L351.4,359.0 L353.7,429.2 L356.1,417.4 L358.4,390.5 L360.8,398.0 L363.1,424.3 L365.4,428.8 L367.5,477.3 L369.9,494.5 L372.5,456.9 L374.8,451.1 L377.2,473.0 L379.5,448.3 L381.9,445.1 L384.3,460.1 L386.6,448.3 L389.0,458.4 L391.4,423.2 L393.7,445.5 L396.1,446.8 L398.4,449.4 L400.8,432.2 L403.2,417.6 L405.3,418.3 L407.7,421.5 L410.0,420.4 L412.4,440.8 L414.8,459.1 L417.1,462.3 L419.5,460.6 L421.9,437.6 L424.2,460.6 L426.6,455.8 L428.7,449.4 L431.3,452.6 L433.7,496.2 L435.8,490.2 L438.4,514.9 L440.8,460.1 L443.1,485.9 L445.5,451.5 L447.6,436.9 L450.2,450.5 L452.4,443.6 L454.7,451.5 L457.1,446.2 L459.4,439.7 L461.8,443.6 L464.2,438.7 L466.7,437.6 L468.9,420.4 L470.7,374.6 L471.2,366.4 L473.3,364.3 L475.7,362.1 L478.0,355.7 L480.4,355.7 L483.0,363.8 L485.3,353.1 L487.5,359.5 L489.9,360.0 L492.2,340.2 L494.8,336.3 L497.2,347.7 L499.5,359.5 L501.7,355.2 L504.2,337.0 L506.4,335.5 L509.0,281.8 L511.1,283.9 L513.5,268.3 L515.8,275.3 L518.4,285.4 L520.8,274.1 L523.1,277.9 L525.5,276.8 L527.9,280.5 L530.1,283.0 L532.5,254.0 L534.9,261.0 L537.2,249.8 L539.5,226.2 L541.9,208.4 L544.3,246.2 L546.6,242.9 L549.0,231.5 L551.4,228.3 L553.7,232.6 L556.1,243.4 L558.4,261.6 L560.8,275.1 L563.2,268.5 L565.5,261.2 L567.7,259.5 L570.0,262.7 L572.4,269.1 L574.8,296.4 L577.1,271.9 L579.5,261.6 L581.9,260.5 L584.0,220.8 L586.6,220.8 L588.7,235.8 L591.1,260.5 L593.5,257.3 L595.8,262.7 L598.2,261.6 L600.5,250.9 L602.9,270.2 L605.3,267.0 L607.6,269.8 L610.0,279.9 L612.4,290.6 L614.7,301.3 L617.1,262.7 L619.4,256.2 L621.8,246.2 L624.2,249.8 L626.5,248.7 L628.9,246.6 L631.3,237.6 L633.5,248.5 L635.9,260.3 L638.2,234.5 L640.5,227.1 L642.9,240.7 L645.2,239.6 L647.6,230.6 L650.0,238.5 L652.3,228.9 L654.7,207.4 L656.8,169.8 L659.4,158.0 L661.6,158.4 L663.9,144.0 L666.3,138.7 L668.7,156.3 L671.0,149.0 L673.6,144.0 L676.0,154.8 L678.3,156.3 L680.7,160.6 L683.0,159.7 L685.4,136.9 L687.8,148.3 L690.1,152.0 L692.5,157.6 L694.9,154.8 L697.2,141.9 L699.6,153.7 L701.9,155.4 L704.3,156.3 L706.7,173.0 L709.0,193.4 L711.4,201.4 L713.8,188.1 L716.1,179.9 L718.5,187.6 L720.8,179.5 L723.2,158.6 L725.6,165.5 L727.9,167.7 L730.3,143.4 L732.7,147.7 L735.0,136.5 L737.4,108.2 L739.5,150.5 L741.7,158.8 L744.3,159.1 L746.5,159.1 L748.8,168.7 L751.2,198.8 L753.5,187.0 L755.9,202.0 L758.3,163.8 L760.6,178.4 L763.0,194.5 L765.3,222.4 L767.7,208.5 L770.1,211.7 L772.4,200.9 L774.8,237.5 L777.2,234.9 L779.5,238.5 L781.9,226.7 L784.0,212.8 L786.4,208.9 L788.8,217.1 L791.1,218.1 L793.5,221.8 L795.8,213.8 L798.2,205.2 L800.6,210.6 L802.9,189.1 L805.3,176.2 L807.7,171.3 L810.0,172.6 L812.4,177.3 L814.7,176.9 L817.1,165.1 L819.5,167.0 L821.8,162.3 L824.2,174.7 L826.6,174.1 L828.9,178.4 L831.3,199.9 L833.6,206.3 L836.0,194.5 L838.4,232.1 L840.7,227.1 L843.1,226.3 L845.5,205.2 L847.8,185.9 L850.0,188.5 L852.1,151.0 L854.6,149.5" fill="none" stroke="#f23645" stroke-width="2.5" stroke-linejoin="round" stroke-linecap="round"/></g>
<line x1="2" y1="150.5" x2="850" y2="150.5" stroke="#089981" stroke-width="1" stroke-dasharray="1 2" shape-rendering="crispEdges"/>
<circle cx="854.6" cy="149.6" r="2.6" fill="#089981"/>
</svg>
<div id="tb">
<svg width="330" height="41" viewBox="0 0 330 41" style="position:absolute;left:0;top:0" fill="none" stroke="#131722" stroke-width="1.25" stroke-linecap="round">
<circle cx="18.8" cy="17" r="11.6"/>
<path d="M13.2 17H24.4M18.8 11.4V22.6"/>
<path d="M122.8 17.1H152.4" stroke-dasharray="0.1 2.5" stroke-width="1.3"/>
<path d="M122.6 24.9L125.4 20.3M129.2 13.5L132 9.1L134.7 13.5M138.6 20.5L140.7 23.5L142.9 20.5M146.6 13.5L150.2 8.7" stroke-width="1.4" stroke-linecap="butt"/>
<path d="M198.8 8.4C198.8 6.8 197.6 5.5 195.8 5.5C193.9 5.5 192.7 6.9 192.7 8.8V22.4C192.7 24.4 191.3 25.8 189.4 25.8C187.6 25.8 186.3 24.5 186.3 22.8M188.2 13.4H196.8" stroke-width="1.3"/>
<path d="M195.8 20.5L201.8 26.3M201.8 20.5L195.8 26.3" stroke-width="1.5" stroke-linecap="butt"/>
</svg>
<div class="sep" style="left:49px"></div><div class="sep" style="left:106px"></div><div class="sep" style="left:165px"></div>
<div class="t" style="left:72.3px;">D</div>
<div class="t" style="left:215px;letter-spacing:0.12px">Indicators</div>
</div>
<div class="pl" style="top:41.6px">130000.00000000</div><div class="pl" style="top:84.7px">125000.00000000</div><div class="pl" style="top:127.9px">120000.00000000</div><div class="pl" style="top:171.0px">115000.00000000</div><div class="pl" style="top:214.2px">110000.00000000</div><div class="pl" style="top:257.3px">105000.00000000</div><div class="pl" style="top:300.4px">100000.00000000</div><div class="pl" style="top:343.6px">95000.00000000</div><div class="pl" style="top:386.7px">90000.00000000</div><div class="pl" style="top:429.9px">85000.00000000</div><div class="pl" style="top:473.0px">80000.00000000</div><div class="pl" style="top:516.1px">75000.00000000</div><div class="pl" style="top:559.3px">70000.00000000</div><div class="pl" style="top:602.4px">65000.00000000</div><div class="pl" style="top:645.6px">60000.00000000</div><div class="pl" style="top:688.7px">55000.00000000</div>
<div class="tag" style="top:140px;width:132.5px;height:20.5px;background:#089981;">118584.77000000</div>
<div class="tag" style="top:680px;width:70px;height:21px;background:#f7525f;line-height:21px">18.679K</div>
<div id="ta"></div>
<div class="tl" style="left:36.599999999999994px">Nov</div><div class="tl b" style="left:180.4px">2025</div><div class="tl" style="left:319.2px">Mar</div><div class="tl" style="left:462.4px">May</div><div class="tl" style="left:606.1px">Jul</div><div class="tl" style="left:752px">Sep</div>
<svg width="46" height="46" viewBox="0 0 46 46" style="position:absolute;left:8.5px;top:647.5px"><circle cx="23" cy="23" r="20.7" fill="#fff" stroke="#e0e3eb" stroke-width="1.4"/><g transform="translate(2.55,2.55)"><path d="M7.6 14.1H18.6V27.6H13.1V18.8H7.6Z M27.2 14.1H33.8L28.9 27.6H22.3Z" fill="#131722"/><circle cx="22.4" cy="16.3" r="2.15" fill="#131722"/></g></svg>
</body></html>
